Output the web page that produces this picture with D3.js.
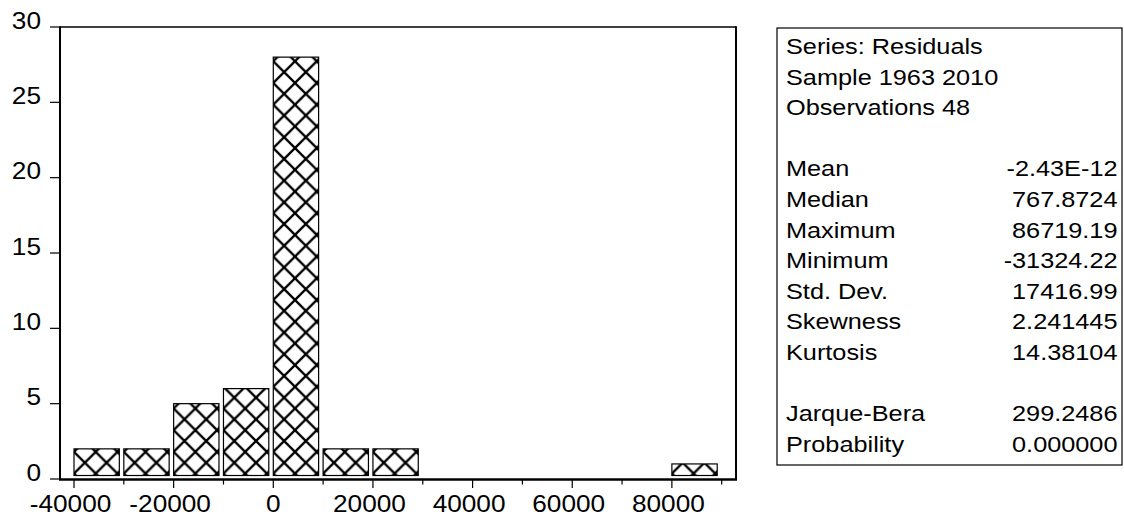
<!DOCTYPE html>
<html>
<head>
<meta charset="utf-8">
<script src="https://cdn.jsdelivr.net/npm/d3@7/dist/d3.min.js"></script>
<style>
  html, body { margin: 0; padding: 0; background: #fff; }
  svg { display: block; }
  text { font-family: "Liberation Sans", Arial, sans-serif; fill: #000; }
</style>
</head>
<body>
<script>
// ---- data ----
const binStarts = [-40000, -30000, -20000, -10000, 0, 10000, 20000, 80000];
const counts    = [2, 2, 5, 6, 28, 2, 2, 1];
const binWidth  = 10000;
const yTicks = [0, 5, 10, 15, 20, 25, 30];
const xMajorTicks = [-40000, -20000, 0, 20000, 40000, 60000, 80000];
const xMinorTicks = [-30000, -10000, 10000, 30000, 50000, 70000, 90000];
const headerLines = ["Series: Residuals", "Sample 1963 2010", "Observations 48"];
const statLabels = ["Mean", "Median", "Maximum", "Minimum", "Std. Dev.", "Skewness", "Kurtosis"];
const statValues = ["-2.43E-12", "767.8724", "86719.19", "-31324.22", "17416.99", "2.241445", "14.38104"];
const testLabels = ["Jarque-Bera", "Probability"];
const testValues = ["299.2486", "0.000000"];

// ---- layout ----
const W = 1124, H = 521;
const frame = { left: 60, right: 736, top: 27, bottom: 479 };
const axisFont = 23, axisStretch = 1.14;
const statFont = 22, statStretch = 1.15;
const hatchSize = 21.7, hatchY = 451.85;

const svg = d3.select("body").append("svg").attr("width", W).attr("height", H);
svg.append("rect").attr("width", W).attr("height", H).attr("fill", "#fff");

const xs = d3.scaleLinear().domain([-40000, 90000]).range([74, 721.7]);
const ys = d3.scaleLinear().domain([0, 30]).range([frame.bottom, frame.top]);

function stretchedText(g, x, y, str, size, sx, anchor) {
  return g.append("text")
    .attr("transform", `translate(${x},${y}) scale(${sx},1)`)
    .attr("text-anchor", anchor)
    .attr("font-size", size)
    .text(str);
}

// ---- bars (each with its own hatch anchored at the bar's left edge) ----
const bars = binStarts.map((s, i) => ({ start: s, count: counts[i], id: "hatch" + i }));
const defs = svg.append("defs");
bars.forEach(d => {
  const p = defs.append("pattern").attr("id", d.id)
    .attr("patternUnits", "userSpaceOnUse")
    .attr("width", hatchSize).attr("height", hatchSize)
    .attr("x", xs(d.start)).attr("y", hatchY);
  p.append("rect").attr("width", hatchSize).attr("height", hatchSize).attr("fill", "#fff");
  p.append("path").attr("d", `M0,0 L${hatchSize},${hatchSize} M${hatchSize},0 L0,${hatchSize}`)
    .attr("stroke", "#000").attr("stroke-width", 2.3).attr("fill", "none");
});

svg.append("g").selectAll("rect").data(bars).join("rect")
  .attr("x", d => xs(d.start))
  .attr("width", d => xs(d.start + binWidth) - xs(d.start) - 4.5)
  .attr("y", d => ys(d.count))
  .attr("height", d => ys(0) - 3.5 - ys(d.count))
  .attr("fill", d => `url(#${d.id})`)
  .attr("stroke", "#000").attr("stroke-width", 1.2);

// ---- frame ----
const fr = svg.append("g").attr("stroke", "#000").attr("fill", "none");
fr.append("line").attr("x1", frame.left).attr("x2", frame.right).attr("y1", frame.top).attr("y2", frame.top).attr("stroke-width", 1.5);
fr.append("line").attr("x1", frame.left).attr("x2", frame.left).attr("y1", frame.top - 0.7).attr("y2", frame.bottom + 1).attr("stroke-width", 2);
fr.append("line").attr("x1", frame.right).attr("x2", frame.right).attr("y1", frame.top - 0.7).attr("y2", frame.bottom + 1).attr("stroke-width", 2);
fr.append("line").attr("x1", frame.left - 1).attr("x2", frame.right + 1).attr("y1", frame.bottom + 0.5).attr("y2", frame.bottom + 0.5).attr("stroke-width", 2.5);

// ---- y axis ----
const yg = svg.append("g");
yTicks.forEach(t => {
  yg.append("line").attr("x1", frame.left - 10).attr("x2", frame.left)
    .attr("y1", ys(t)).attr("y2", ys(t)).attr("stroke", "#000").attr("stroke-width", 1.2);
  stretchedText(yg, frame.left - 19, ys(t) + 1.5, String(t), axisFont, axisStretch, "end");
});

// ---- x axis ----
const xg = svg.append("g");
xMajorTicks.forEach(t => {
  xg.append("line").attr("x1", xs(t)).attr("x2", xs(t))
    .attr("y1", frame.bottom).attr("y2", frame.bottom + 9).attr("stroke", "#000").attr("stroke-width", 1.2);
  stretchedText(xg, xs(t) - (t === 0 ? 0 : 3.5), 511.5, String(t), axisFont, axisStretch, "middle");
});
xMinorTicks.forEach(t => {
  xg.append("line").attr("x1", xs(t)).attr("x2", xs(t))
    .attr("y1", frame.bottom).attr("y2", frame.bottom + 5.5).attr("stroke", "#000").attr("stroke-width", 1.2);
});

// ---- stats box ----
const box = { left: 777, right: 1122, top: 28, bottom: 465 };
svg.append("rect").attr("x", box.left).attr("y", box.top)
  .attr("width", box.right - box.left).attr("height", box.bottom - box.top)
  .attr("fill", "#fff").attr("stroke", "#000").attr("stroke-width", 1.2);

const sg = svg.append("g");
const firstBase = 54, rowStep = 30.6;
const textLeft = 786, textRight = 1117.5;
headerLines.forEach((s, i) => stretchedText(sg, textLeft, firstBase + i * rowStep, s, statFont, statStretch, "start"));
statLabels.forEach((s, i) => {
  const y = firstBase + (4 + i) * rowStep;
  stretchedText(sg, textLeft, y, s, statFont, statStretch, "start");
  stretchedText(sg, textRight, y, statValues[i], statFont, statStretch, "end");
});
testLabels.forEach((s, i) => {
  const y = firstBase + (12 + i) * rowStep;
  stretchedText(sg, textLeft, y, s, statFont, statStretch, "start");
  stretchedText(sg, textRight, y, testValues[i], statFont, statStretch, "end");
});
</script>
</body>
</html>
